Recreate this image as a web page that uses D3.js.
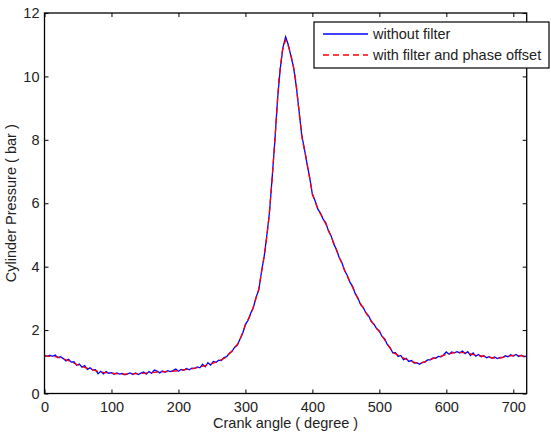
<!DOCTYPE html>
<html lang="en">
<head>
    <meta charset="UTF-8">
    <title>Cylinder Pressure vs Crank angle</title>
    <script src="https://d3js.org/d3.v7.min.js"></script>
    <style>
        body { margin: 0; background: #fff; font-family: "Liberation Sans", Arial, sans-serif; }
        .axis text { font-size: 14.5px; fill: #222; font-family: "Liberation Sans", Arial, sans-serif; }
        .axis path { display: none; }
        .axis line { stroke: #000; }
        .label { font-size: 14.5px; fill: #222; }
        .legend text { font-size: 14.5px; fill: #222; }
    </style>
</head>
<body>
    <div id="chart"></div>
    <script>
        // crank angle grid for the raw trace (every 4 degrees)
        const rawAngle = d3.range(0, 721, 4);
        // pressure without filter (bar)
        const rawPressure = [
            1.20, 1.17, 1.21, 1.17, 1.21, 1.13, 1.16, 1.10, 1.03, 1.08,
            0.99, 1.00, 0.89, 0.93, 0.83, 0.88, 0.76, 0.81, 0.74, 0.75,
            0.62, 0.70, 0.62, 0.69, 0.64, 0.66, 0.61, 0.65, 0.61, 0.63,
            0.59, 0.62, 0.65, 0.60, 0.65, 0.60, 0.64, 0.68, 0.61, 0.69,
            0.64, 0.74, 0.71, 0.65, 0.71, 0.67, 0.72, 0.69, 0.72, 0.77,
            0.70, 0.76, 0.73, 0.79, 0.75, 0.80, 0.79, 0.84, 0.81, 0.92,
            0.84, 0.97, 0.90, 1.01, 0.98, 1.05, 1.04, 1.13, 1.16, 1.27,
            1.33, 1.46, 1.53, 1.72, 1.90, 2.18, 2.31, 2.54, 2.72, 3.04,
            3.27, 3.84, 4.32, 4.99, 5.73, 6.83, 7.98, 9.29, 10.24, 10.91,
            11.25, 11.00, 10.63, 10.28, 9.68, 8.93, 8.16, 7.72, 7.24, 6.81,
            6.28, 6.08, 5.82, 5.69, 5.50, 5.38, 5.13, 4.97, 4.71, 4.54,
            4.29, 4.13, 3.88, 3.73, 3.51, 3.38, 3.15, 3.01, 2.80, 2.71,
            2.54, 2.45, 2.27, 2.19, 2.04, 1.97, 1.80, 1.72, 1.54, 1.45,
            1.28, 1.29, 1.17, 1.20, 1.07, 1.11, 1.01, 1.04, 0.96, 0.97,
            0.92, 0.98, 0.99, 1.06, 1.06, 1.12, 1.11, 1.17, 1.16, 1.22,
            1.31, 1.24, 1.31, 1.28, 1.32, 1.28, 1.34, 1.26, 1.32, 1.20,
            1.28, 1.18, 1.23, 1.16, 1.19, 1.13, 1.16, 1.11, 1.15, 1.10,
            1.14, 1.13, 1.19, 1.16, 1.22, 1.18, 1.23, 1.17, 1.21, 1.16,
            1.18
        ];
        // filtered trace (with phase offset)
        const filtAngle = [
            0, 10, 20, 30, 40, 50, 60, 70, 80, 90, 100, 110, 120, 130, 140, 150,
            160, 170, 180, 190, 200, 210, 220, 230, 240, 250, 260, 270, 280, 290,
            300, 310, 320, 330, 335, 340, 345, 350, 355, 360, 365, 370, 375, 380,
            385, 390, 395, 400, 405, 410, 420, 430, 440, 450, 460, 470, 480, 490,
            500, 510, 520, 530, 540, 550, 560, 570, 580, 590, 600, 610, 620, 630,
            640, 650, 660, 670, 680, 690, 700, 710, 720
        ];
        const filtPressure = [
            1.18, 1.17, 1.15, 1.08, 1.00, 0.90, 0.82, 0.76, 0.70, 0.66, 0.64, 0.62, 0.61, 0.62, 0.63, 0.64,
            0.66, 0.68, 0.69, 0.70, 0.72, 0.75, 0.78, 0.82, 0.88, 0.94, 1.02, 1.13, 1.34, 1.60,
            2.15, 2.60, 3.30, 4.60, 5.50, 6.80, 8.30, 9.90, 10.80, 11.15, 10.90, 10.50, 9.90, 8.90,
            8.00, 7.50, 6.90, 6.30, 6.00, 5.75, 5.35, 4.85, 4.30, 3.80, 3.35, 2.90, 2.55, 2.22,
            1.95, 1.62, 1.30, 1.18, 1.08, 1.00, 0.94, 1.02, 1.10, 1.16, 1.23, 1.28, 1.30, 1.28,
            1.23, 1.19, 1.16, 1.12, 1.12, 1.17, 1.20, 1.19, 1.17
        ];
        const xTicks = [0, 100, 200, 300, 400, 500, 600, 700];
        const yTicks = [0, 2, 4, 6, 8, 10, 12];
        const seriesNames = ["without filter", "with filter and phase offset"];

        const W = 551, H = 435;
        const margin = {top: 13, right: 24.3, bottom: 41.5, left: 44.5};
        const width = W - margin.left - margin.right;
        const height = H - margin.top - margin.bottom;

        const svg = d3.select("#chart")
            .append("svg")
            .attr("width", W)
            .attr("height", H);

        const g = svg.append("g")
            .attr("transform", `translate(${margin.left},${margin.top})`);

        const x = d3.scaleLinear().domain([0, 720]).range([0, width]);
        const y = d3.scaleLinear().domain([0, 12]).range([height, 0]);

        // axes with inward ticks on all four sides
        g.append("g").attr("class", "axis")
            .attr("transform", `translate(0,${height})`)
            .call(d3.axisBottom(x).tickValues(xTicks).tickSizeInner(-4).tickSizeOuter(0).tickPadding(8));
        g.append("g").attr("class", "axis")
            .call(d3.axisTop(x).tickValues(xTicks).tickSizeInner(-4).tickSizeOuter(0).tickFormat(""));
        g.append("g").attr("class", "axis")
            .call(d3.axisLeft(y).tickValues(yTicks).tickSizeInner(-4).tickSizeOuter(0).tickPadding(5));
        g.append("g").attr("class", "axis")
            .attr("transform", `translate(${width},0)`)
            .call(d3.axisRight(y).tickValues(yTicks).tickSizeInner(-4).tickSizeOuter(0).tickFormat(""));

        const line = d3.line()
            .x(d => x(d[0]))
            .y(d => y(d[1]));

        g.append("path")
            .datum(rawAngle.map((a, i) => [a, rawPressure[i]]))
            .attr("fill", "none")
            .attr("stroke", "#0000ff")
            .attr("stroke-width", 1.3)
            .attr("d", line);

        g.append("path")
            .datum(filtAngle.map((a, i) => [a, filtPressure[i]]))
            .attr("fill", "none")
            .attr("stroke", "#ff0000")
            .attr("stroke-width", 1.3)
            .attr("stroke-dasharray", "6,4")
            .attr("d", line);

        // frame
        g.append("rect")
            .attr("width", width)
            .attr("height", height)
            .attr("fill", "none")
            .attr("stroke", "#000")
            .attr("stroke-width", 1.3);

        svg.append("text")
            .attr("class", "label")
            .attr("text-anchor", "middle")
            .attr("x", margin.left + width / 2)
            .attr("y", 428)
            .text("Crank angle ( degree )");

        svg.append("text")
            .attr("class", "label")
            .attr("text-anchor", "middle")
            .attr("transform", "rotate(-90)")
            .attr("x", -(margin.top + height / 2))
            .attr("y", 16)
            .text("Cylinder Pressure ( bar )");

        // legend
        const legend = svg.append("g").attr("class", "legend")
            .attr("transform", "translate(314,22)");
        legend.append("rect")
            .attr("width", 235)
            .attr("height", 46)
            .attr("fill", "#fff")
            .attr("stroke", "#000")
            .attr("stroke-width", 1.2);
        const colors = ["#0000ff", "#ff0000"];
        const dashes = [null, "6,4"];
        seriesNames.forEach((name, i) => {
            const row = legend.append("g").attr("transform", `translate(0,${12 + i * 21})`);
            row.append("line")
                .attr("x1", 9).attr("x2", 54)
                .attr("stroke", colors[i])
                .attr("stroke-width", 1.3)
                .attr("stroke-dasharray", dashes[i]);
            row.append("text")
                .attr("x", 59)
                .attr("dy", "0.35em")
                .text(name);
        });
    </script>
</body>
</html>
